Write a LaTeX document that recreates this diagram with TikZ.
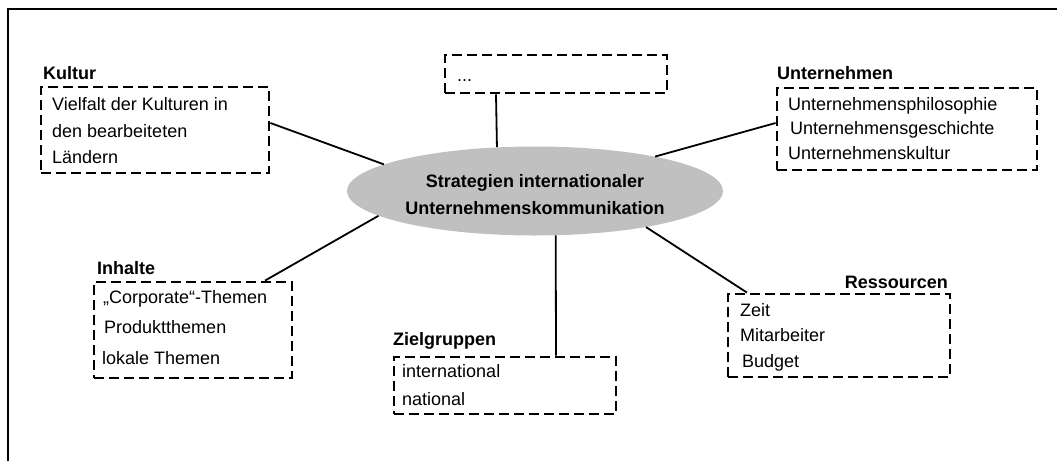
\documentclass[tikz,border=0pt]{standalone}
\usepackage{fontspec}
\setmainfont{Liberation Sans}
\usetikzlibrary{shapes.geometric,calc}
\definecolor{hubgray}{RGB}{192,192,192}
\begin{document}
\begin{tikzpicture}[x=1pt,y=-1pt,
  every node/.style={font=\fontsize{18}{27}\selectfont},
  topicbox/.style={draw, line width=2.8pt, dash pattern=on 10pt off 5pt, inner sep=0pt},
  heading/.style={font=\fontsize{18}{27}\selectfont\bfseries, anchor=base west, inner sep=0pt},
  entry/.style={anchor=base west, inner sep=0pt},
  hubtext/.style={font=\fontsize{18}{27}\selectfont\bfseries, anchor=base, inner sep=0pt},
  link/.style={line width=1.8pt}]
\useasboundingbox (0,0) rectangle (1057,461);
% frame
\draw[line width=2.4pt] (8,461) -- (8,9) -- (1057,9);

% central topic
\node[ellipse, fill=hubgray, minimum width=376pt, minimum height=89pt, inner sep=0pt] (hub) at (535,191) {};
\node[hubtext] (hub1) at (535,187) {Strategien internationaler};
\node[hubtext] (hub2) at (535,214) {Unternehmenskommunikation};

% topic boxes
\node[topicbox, minimum width=228pt, minimum height=86pt] (kultur) at (155,130) {};
\node[topicbox, minimum width=222pt, minimum height=38pt] (dots) at (556,74) {};
\node[topicbox, minimum width=260pt, minimum height=82pt] (untern) at (907,129) {};
\node[topicbox, minimum width=198pt, minimum height=96pt] (inhalte) at (193,330) {};
\node[topicbox, minimum width=222pt, minimum height=57pt] (ziel) at (505,385.5) {};
\node[topicbox, minimum width=222pt, minimum height=83pt] (ress) at (839,335.5) {};

% headings and entries
\node[heading] (kulturH) at (43,79) {Kultur};
\node[entry] (kultur1) at (52,110) {Vielfalt der Kulturen in};
\node[entry] (kultur2) at (52,137) {den bearbeiteten};
\node[entry] (kultur3) at (52,163) {Ländern};

\node[entry] (dots1) at (457,81) {...};

\node[heading] (unternH) at (777,79) {Unternehmen};
\node[entry] (untern1) at (788,110) {Unternehmensphilosophie};
\node[entry] (untern2) at (790,134) {Unternehmensgeschichte};
\node[entry] (untern3) at (788,159) {Unternehmenskultur};

\node[heading] (inhalteH) at (97,274) {Inhalte};
\node[entry] (inhalte1) at (103,303) {„Corporate“-Themen};
\node[entry] (inhalte2) at (104,333) {Produktthemen};
\node[entry] (inhalte3) at (102,364) {lokale Themen};

\node[heading] (zielH) at (393,345) {Zielgruppen};
\node[entry] (ziel1) at (402,377) {international};
\node[entry] (ziel2) at (402,405) {national};

\node[heading, anchor=base east] (ressH) at (948,288) {Ressourcen};
\node[entry] (ress1) at (740,316) {Zeit};
\node[entry] (ress2) at (740,341) {Mitarbeiter};
\node[entry] (ress3) at (742,367) {Budget};

% connectors
\draw[link] ($(kultur.east)+(0,-7)$) -- (hub.170.4);
\draw[link] ($(dots.south)+(-60,0)$) -- (hub.131.9);
\draw[link] ($(untern.west)+(0,-6)$) -- (hub.16.5);
\draw[link] ($(inhalte.north)+(72,0)$) -- (hub.189.6);
\draw[link] ($(ziel.north)+(51,0)$) -- (hub.295.3);
\draw[link] ($(ress.north)+(-92,0)$) -- (hub.342.2);
\end{tikzpicture}
\end{document}
